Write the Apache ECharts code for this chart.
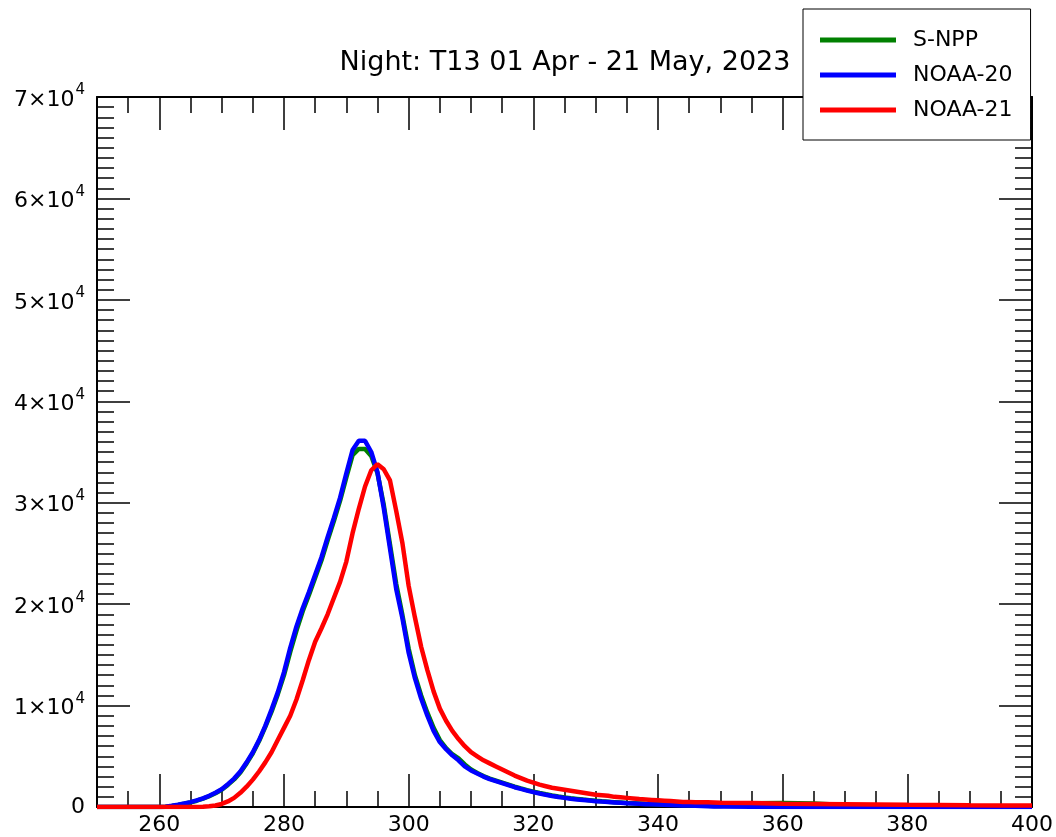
<!DOCTYPE html>
<html>
<head>
<meta charset="utf-8">
<script src="https://cdn.jsdelivr.net/npm/echarts@6/dist/echarts.min.js"></script>
<style>
    html, body { margin: 0; padding: 0; background: #fff; }
    #hist_con { width: 1056px; height: 837px; }
</style>
</head>
<body>
<div id="hist_con"></div>
<script>
const titleText = 'Night: T13 01 Apr - 21 May, 2023';
const seriesNames = ['S-NPP', 'NOAA-20', 'NOAA-21'];
const seriesColors = ['#008000', '#0000ff', '#ff0000'];

// brightness temperature bins (K)
const temps = [
    250, 252, 254, 256, 258, 260,
    261, 262, 263, 264, 265, 266, 267, 268, 269, 270,
    271, 272, 273, 274, 275, 276, 277, 278, 279, 280,
    281, 282, 283, 284, 285, 286, 287, 288, 289, 290,
    291, 292, 293, 294, 295, 296, 297, 298, 299, 300,
    301, 302, 303, 304, 305, 306, 307, 308, 309, 310,
    311, 312, 313, 314, 315, 316, 317, 318, 319, 320,
    321, 322, 323, 324, 325, 326, 327, 328, 329, 330,
    331, 332, 333, 334, 335, 336, 337, 338, 339, 340,
    341, 342, 343, 344, 345, 346, 347, 348, 349, 350,
    355, 360, 365, 370, 375, 380, 385, 390, 395, 400
];

const snpp = [
    0, 0, 0, 0, 0, 10,
    30, 110, 200, 320, 450, 620, 820, 1060, 1350, 1700,
    2180, 2720, 3400, 4300, 5300, 6500, 7900, 9400, 11100, 13000,
    15300, 17400, 19300, 20900, 22600, 24300, 26300, 28200, 30200, 32500,
    34700, 35300, 35300, 34600, 32900, 29800, 25900, 22000, 18900, 15600,
    13000, 11000, 9300, 7800, 6600, 5800, 5200, 4800, 4200, 3700,
    3350, 3050, 2800, 2600, 2400, 2200, 2000, 1830, 1670, 1520,
    1380, 1250, 1140, 1040, 950, 870, 800, 730, 670, 610,
    560, 520, 480, 440, 400, 370, 340, 310, 290, 270,
    250, 230, 210, 190, 170, 150, 130, 120, 110, 100,
    380, 400, 350, 200, 150, 100, 80, 60, 40, 20
];

const noaa20 = [
    0, 0, 0, 0, 0, 10,
    30, 120, 220, 350, 480, 650, 850, 1100, 1400, 1750,
    2250, 2800, 3500, 4400, 5400, 6600, 8000, 9600, 11300, 13300,
    15700, 17800, 19600, 21200, 22900, 24600, 26600, 28500, 30500, 32900,
    35200, 36100, 36100, 35000, 33000, 29500, 25500, 21500, 18600, 15200,
    12700, 10700, 9000, 7500, 6400, 5700, 5100, 4600, 4000, 3600,
    3300, 3000, 2750, 2550, 2350, 2150, 1950, 1780, 1620, 1470,
    1330, 1200, 1090, 990, 900, 820, 750, 690, 630, 570,
    530, 490, 450, 410, 370, 340, 310, 280, 260, 240,
    220, 200, 180, 160, 140, 120, 100, 80, 60, 50,
    30, 10, 0, 0, 0, 0, 0, 0, 0, 0
];

const noaa21 = [
    0, 0, 0, 0, 0, 0,
    0, 0, 0, 0, 0, 10, 30, 70, 150, 300,
    550, 900, 1400, 2000, 2700, 3500, 4400, 5400, 6600, 7800,
    9000, 10600, 12500, 14500, 16300, 17600, 19000, 20600, 22200, 24200,
    27000, 29400, 31600, 33200, 33800, 33300, 32200, 29200, 26000, 21800,
    18700, 15800, 13500, 11400, 9700, 8500, 7500, 6700, 6000, 5400,
    5000, 4600, 4300, 4000, 3700, 3400, 3100, 2850, 2600, 2400,
    2200, 2050, 1900, 1800, 1700, 1600, 1500, 1400, 1300, 1200,
    1150, 1100, 1000, 950, 900, 840, 780, 740, 700, 660,
    620, 580, 540, 500, 490, 480, 470, 460, 450, 430,
    400, 330, 300, 270, 240, 210, 190, 170, 160, 150
];

// major x ticks / labels
const xMajor = [260, 280, 300, 320, 340, 360, 380, 400];

const chart = echarts.init(document.getElementById('hist_con'));
const font = 'DejaVu Sans';
const black = '#000';

function pairs (vals) {
    return temps.map((t, i) => [t, vals[i]]);
}

function xAx (pos, major, labels) {
    return {
        type: 'value',
        position: pos,
        min: 250,
        max: 400,
        interval: 5,
        axisLine: { show: !major, onZero: false, lineStyle: { color: black, width: 2 } },
        axisTick: major
            ? { show: true, inside: true, length: 33, customValues: xMajor, lineStyle: { color: black, width: 1.5 } }
            : { show: true, inside: true, length: 16, lineStyle: { color: black, width: 1.5 } },
        axisLabel: labels
            ? { show: true, customValues: xMajor, margin: 7, color: black, fontFamily: font, fontSize: 22 }
            : { show: false },
        splitLine: { show: false }
    };
}

function yAx (pos, labels) {
    return {
        type: 'value',
        position: pos,
        min: 0,
        max: 70000,
        interval: 10000,
        axisLine: { show: true, onZero: false, lineStyle: { color: black, width: 2 } },
        axisTick: { show: true, inside: true, length: 33, lineStyle: { color: black, width: 1.5 } },
        minorTick: { show: true, splitNumber: 10, length: 17, lineStyle: { color: black, width: 1.5 } },
        axisLabel: labels ? {
            show: true,
            margin: 12,
            formatter: function (v) {
                return v === 0 ? '{z|0}' : '{b|' + (v / 10000) + '×10}{s|4}';
            },
            rich: {
                z: { fontFamily: font, fontSize: 22, color: black },
                b: { fontFamily: font, fontSize: 22, color: black, verticalAlign: 'bottom' },
                s: { fontFamily: font, fontSize: 15, color: black, verticalAlign: 'top', padding: [0, 0, 13, 1] }
            }
        } : { show: false },
        splitLine: { show: false },
        minorSplitLine: { show: false }
    };
}

const option = {
    animation: false,
    backgroundColor: '#fff',
    title: {
        text: titleText,
        left: 560,
        textAlign: 'center',
        top: 44,
        textStyle: { fontFamily: font, fontSize: 27, fontWeight: 'normal', color: black }
    },
    legend: {
        data: seriesNames,
        orient: 'vertical',
        left: 803,
        top: 9,
        padding: [20, 18, 19, 17],
        itemGap: 13,
        itemWidth: 76,
        itemHeight: 5,
        icon: 'rect',
        backgroundColor: '#fff',
        borderColor: black,
        borderWidth: 1,
        borderRadius: 0,
        textStyle: { fontFamily: font, fontSize: 22, color: black, lineHeight: 21, padding: [0, 0, 0, 12] }
    },
    grid: {
        left: 97,
        top: 97,
        width: 936,
        height: 710,
        containLabel: false
    },
    xAxis: [
        xAx('bottom', false, true),
        xAx('bottom', true, false),
        xAx('top', false, false),
        xAx('top', true, false)
    ],
    yAxis: [
        yAx('left', true),
        yAx('right', false)
    ],
    series: [snpp, noaa20, noaa21].map((vals, i) => ({
        name: seriesNames[i],
        type: 'line',
        data: pairs(vals),
        showSymbol: false,
        symbol: 'none',
        color: seriesColors[i],
        lineStyle: { color: seriesColors[i], width: 4.5 }
    }))
};

chart.setOption(option);

window.addEventListener('resize', function () {
    chart.resize();
});
</script>
</body>
</html>
